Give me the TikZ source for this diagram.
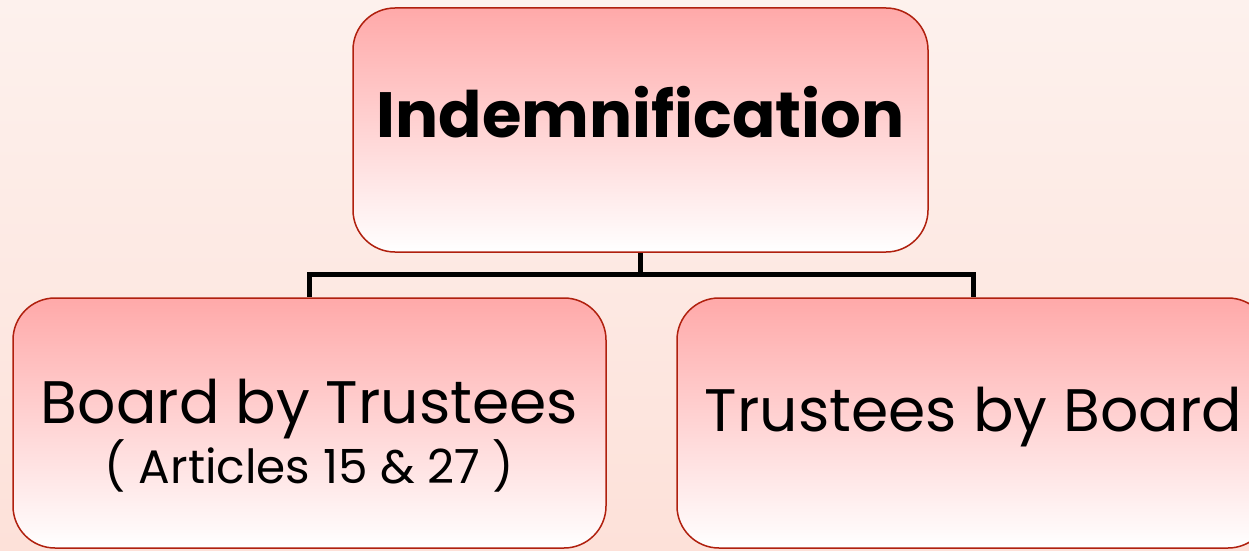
\documentclass[tikz,border=0pt]{standalone}
\usepackage{fontspec}
\setmainfont{Poppins}
\usetikzlibrary{positioning}
\definecolor{boxline}{HTML}{B0200E}
\definecolor{boxtop}{HTML}{FFA9A9}
\definecolor{bgtop}{HTML}{FDF1ED}
\definecolor{bgbottom}{HTML}{FDE1D9}
\begin{document}
\begin{tikzpicture}[x=1pt,y=1pt]

\tikzset{
  % rounded boxes of the chart
  chartbox/.style={
    draw=boxline, line width=1.5pt, rounded corners=42pt,
    top color=boxtop, bottom color=white,
    inner sep=0pt, minimum width=#1, minimum height=250pt
  },
  % black elbow lines
  link/.style={line width=5pt, black},
  boxtext/.style={font=\fontsize{60}{68}\selectfont},
}

\useasboundingbox [top color=bgtop, bottom color=bgbottom] (0,0) rectangle (1249,550);

\node (top) [chartbox=575pt, minimum height=244pt] at (640.5,420) {};
\node (left) [chartbox=593pt] at (309.5,127) {};
\node (right) [chartbox=593pt] at (973.5,127) {};

\node (toptext) at ([yshift=18pt]top.center) {\fontsize{64}{70}\selectfont\bfseries Indemnification};
\node (lefttext) [boxtext] at ([yshift=14pt]left.center) {Board by Trustees};
\node (leftnote) [font=\fontsize{47}{52}\selectfont, below=-6pt of lefttext] {( Articles 15 \& 27 )};
\node (righttext) [boxtext] at ([yshift=6pt]right.center) {Trustees by Board};

\draw [link] (top.south) -- ++(0,-22) coordinate (fork);
\draw [link] (fork) -| (left.north);
\draw [link] (fork) -| (right.north);

\end{tikzpicture}
\end{document}
